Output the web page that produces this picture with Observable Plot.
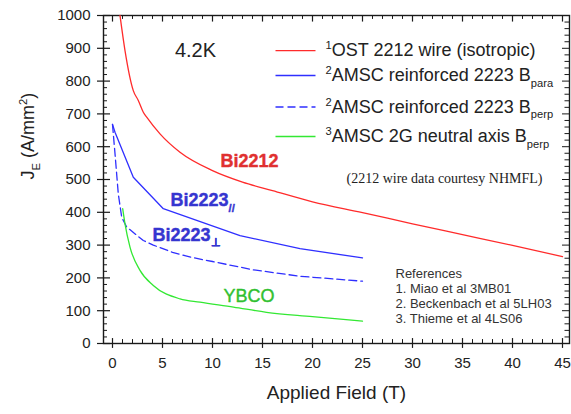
<!DOCTYPE html>
<html>
<head>
<meta charset="utf-8">
<script src="https://cdn.jsdelivr.net/npm/d3@7"></script>
<script src="https://cdn.jsdelivr.net/npm/@observablehq/plot@0.6"></script>
<style>
  body { margin: 0; background: #fff; }
  #chart svg { display: block; }
</style>
</head>
<body>
<div id="chart"></div>
<script>
// ---- tick labels ----
const xTickValues = [0, 5, 10, 15, 20, 25, 30, 35, 40, 45];
const yTickValues = [0, 100, 200, 300, 400, 500, 600, 700, 800, 900, 1000];

// ---- series (Applied Field in T, JE in A/mm^2) ----
const bi2212X = [0.75, 1.25, 2.08, 2.58, 3.08, 3.42, 4.75, 6.75, 10, 13, 16, 20, 25, 30, 35, 40, 45];
const bi2212Y = [1000, 893, 771, 741, 705, 690, 639, 583, 527, 492, 466, 432, 399, 365, 332, 299, 265];

const bi2223ParaX = [0, 0.25, 2.08, 5.08, 12.75, 18.75, 25];
const bi2223ParaY = [668, 644, 507, 411, 329, 289, 261];

const bi2223PerpX = [0, 0.25, 0.58, 0.92, 1.42, 3.08, 4.08, 6, 8, 10, 14, 18.75, 25];
const bi2223PerpY = [668, 579, 456, 385, 355, 314, 300, 278, 262, 250, 225, 205, 190];

const ybcoX = [1.02, 1.25, 1.75, 2.75, 4.08, 6.75, 8.75, 12.1, 15.4, 20, 25];
const ybcoY = [411, 365, 294, 223, 177, 136, 126, 111, 95, 82, 68];

// ---- legend / annotation texts ----
const legendLabels = [
  "^{1}OST 2212 wire (isotropic)",
  "^{2}AMSC reinforced 2223 B_{para}",
  "^{2}AMSC reinforced 2223 B_{perp}",
  "^{3}AMSC 2G neutral axis B_{perp}"
];
const referenceLines = ["References", "1. Miao et al 3MB01", "2. Beckenbach et al 5LH03", "3. Thieme et al 4LS06"];
const tempLabel = "4.2K";
const noteLabel = "(2212 wire data courtesy NHMFL)";
const curveLabels = ["Bi2212", "Bi2223_{//}", "Bi2223_{⊥}", "YBCO"];
const xLabel = "Applied Field (T)";
const yLabel = "J_{E} (A/mm^{2})";

// ---- build tables ----
const toRows = (xs, ys) => xs.map((x, i) => ({x, y: ys[i]}));
const series = [
  {rows: toRows(bi2212X, bi2212Y), color: "#ff2b2b", dash: null, curve: "monotone-x"},
  {rows: toRows(bi2223ParaX, bi2223ParaY), color: "#2f2fff", dash: null, curve: "linear"},
  {rows: toRows(bi2223PerpX, bi2223PerpY), color: "#2f2fff", dash: "8,4", curve: "linear"},
  {rows: toRows(ybcoX, ybcoY), color: "#33e833", dash: null, curve: "monotone-x"}
];

const X0 = -0.9, X1 = 45.7;
const xMinor = d3.range(0, 46, 1).filter(v => v % 5 !== 0);
const yMinor = d3.range(0, 1001, 20).filter(v => v % 100 !== 0);
const yRightAll = d3.range(0, 1001, 20);
const legendY = [893, 817, 721, 631];
const refY = [213, 168, 122, 76];

const axisColor = "#1a1a1a";

const marks = [
  Plot.frame({stroke: axisColor, strokeWidth: 1.4}),
  // bottom ticks
  Plot.ruleX(xTickValues, {x: d => d, y1: -15, y2: 15, stroke: axisColor, strokeWidth: 1.2}),
  Plot.ruleX(xMinor, {x: d => d, y1: 0, y2: 12, stroke: axisColor, strokeWidth: 1}),
  // top ticks
  Plot.ruleX(xTickValues, {x: d => d, y1: 980, y2: 1000, stroke: axisColor, strokeWidth: 1.2}),
  Plot.ruleX(xMinor, {x: d => d, y1: 988, y2: 1000, stroke: axisColor, strokeWidth: 1}),
  // left ticks
  Plot.ruleY(yTickValues, {y: d => d, x1: X0 - 0.6, x2: X0 + 0.7, stroke: axisColor, strokeWidth: 1.2}),
  Plot.ruleY(yMinor, {y: d => d, x1: X0, x2: X0 + 0.4, stroke: axisColor, strokeWidth: 1}),
  // right ticks
  Plot.ruleY(yRightAll, {y: d => d, x1: d => d % 100 === 0 ? X1 - 0.7 : X1 - 0.45, x2: X1, stroke: axisColor, strokeWidth: 1}),
  // tick labels
  Plot.text(xTickValues, {x: d => d, y: 0, dy: 20, text: d => String(d), fontSize: 15, fill: "#222"}),
  Plot.text(yTickValues, {x: X0, y: d => d, dx: -13, text: d => String(d), textAnchor: "end", fontSize: 15, fill: "#222"}),
  // axis titles
  Plot.text([xLabel], {frameAnchor: "bottom", dy: 55, text: d => d, fontSize: 19, fill: "#222"}),
  Plot.text([yLabel], {frameAnchor: "left", dx: -75, rotate: -90, text: d => d, fontSize: 18, fill: "#222"}),
];

// curves
series.forEach(s => {
  marks.push(Plot.line(s.rows, {x: "x", y: "y", stroke: s.color, strokeWidth: 1.3,
    strokeDasharray: s.dash || undefined, curve: s.curve}));
});

// legend
series.forEach((s, i) => {
  marks.push(Plot.link([legendY[i]], {x1: 16.3, x2: 20.3, y1: d => d, y2: d => d,
    stroke: s.color, strokeWidth: 1.4, strokeDasharray: s.dash || undefined}));
});
marks.push(Plot.text(legendLabels, {x: 21.3, y: (d, i) => legendY[i], text: d => d,
  textAnchor: "start", fontSize: 18, fill: "#222"}));

// annotations
marks.push(Plot.text([tempLabel], {x: 8.3, y: 893, text: d => d, fontSize: 20, fill: "#222"}));
marks.push(Plot.text([noteLabel], {x: 33.2, y: 503, text: d => d, fontSize: 14, fill: "#222",
  fontFamily: "Liberation Serif, Times New Roman, serif"}));
marks.push(Plot.text(referenceLines, {x: 28.3, y: (d, i) => refY[i], text: d => d, textAnchor: "start",
  fontSize: 13, fill: "#333"}));

const labelPos = [
  {x: 10.8, y: 555, color: "#e03030"},
  {x: 5.8, y: 436, color: "#3535d0"},
  {x: 4.0, y: 331, color: "#3535d0"},
  {x: 11.1, y: 145, color: "#30c030"}
];
curveLabels.forEach((lab, i) => {
  marks.push(Plot.text([lab], {x: labelPos[i].x, y: labelPos[i].y, text: d => d, textAnchor: "start",
    fontSize: 18, fontWeight: i === 3 ? "normal" : "bold", fill: labelPos[i].color,
    stroke: labelPos[i].color, strokeWidth: 0.4}));
});

const chart = Plot.plot({
  width: 571,
  height: 414,
  marginLeft: 103,
  marginRight: 2,
  marginTop: 15,
  marginBottom: 71,
  style: {fontFamily: "Liberation Sans, Arial, sans-serif", fontSize: "15px", background: "white", overflow: "visible"},
  x: {domain: [X0, X1], axis: null},
  y: {domain: [0, 1000], axis: null},
  marks
});
document.getElementById("chart").appendChild(chart);

// rich text: ^{...} superscript, _{...} subscript
function richify(svg) {
  svg.querySelectorAll("text").forEach(t => {
    const s = t.textContent;
    if (!/[\^_]\{/.test(s)) return;
    const fs = parseFloat(getComputedStyle(t).fontSize) || 15;
    let base = 0;
    const dyAttr = t.getAttribute("dy");
    if (dyAttr) {
      base = dyAttr.endsWith("em") ? parseFloat(dyAttr) * fs : parseFloat(dyAttr);
      t.removeAttribute("dy");
    }
    const parts = s.split(/(\^\{[^}]*\}|_\{[^}]*\})/).filter(p => p);
    while (t.firstChild) t.removeChild(t.firstChild);
    let shift = 0, first = true;
    for (const p of parts) {
      const ts = document.createElementNS("http://www.w3.org/2000/svg", "tspan");
      let target = 0, txt = p, size = null;
      if (p.startsWith("^{")) { target = -0.4 * fs; txt = p.slice(2, -1); size = 0.62 * fs; }
      else if (p.startsWith("_{")) { target = 0.3 * fs; txt = p.slice(2, -1); size = 0.62 * fs; }
      let dy = target - shift;
      if (first) dy += base;
      ts.setAttribute("dy", dy);
      shift = target; first = false;
      if (size) ts.setAttribute("font-size", size);
      ts.textContent = txt;
      t.appendChild(ts);
    }
  });
}
richify(chart);
</script>
</body>
</html>
